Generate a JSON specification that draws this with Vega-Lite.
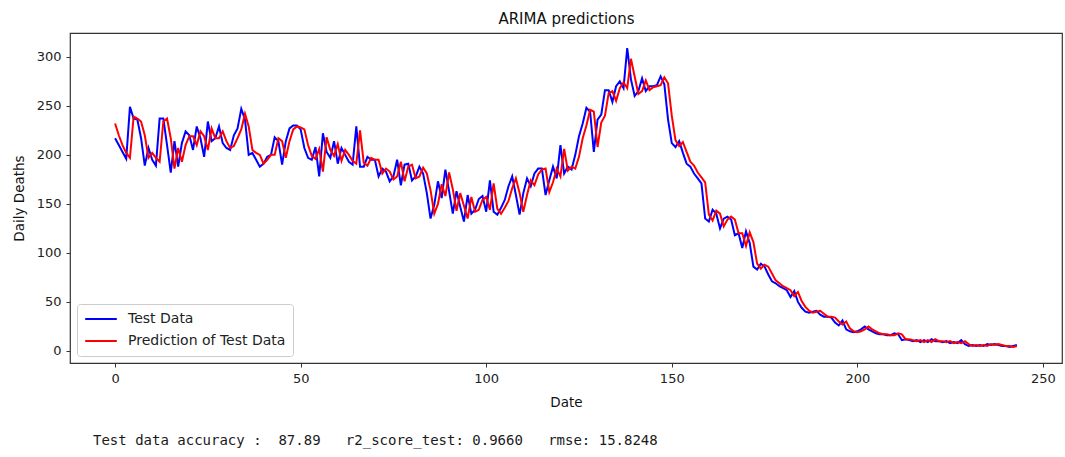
{
  "$schema": "https://vega.github.io/schema/vega-lite/v6.json",
  "autosize": "none",
  "width": 992,
  "height": 330,
  "padding": {"left": 70, "top": 33, "right": 3, "bottom": 94},
  "background": "white",
  "title": {
    "text": "Test data accuracy :\u00a0 87.89\u00a0\u00a0 r2_score_test: 0.9660\u00a0\u00a0 rmse: 15.8248",
    "orient": "bottom",
    "anchor": "start",
    "frame": "group",
    "dx": 23,
    "offset": 25,
    "font": "DejaVu Sans Mono",
    "fontSize": 14,
    "fontWeight": "normal",
    "color": "#1a1a1a"
  },
  "data": {
    "values": [
      {"Date":0,"test":217,"pred":232},{"Date":1,"test":210,"pred":220},{"Date":2,"test":203,"pred":210},{"Date":3,"test":196,"pred":202},{"Date":4,"test":249,"pred":197},
      {"Date":5,"test":237,"pred":239},{"Date":6,"test":236,"pred":237},{"Date":7,"test":217,"pred":234},{"Date":8,"test":189,"pred":220},{"Date":9,"test":207,"pred":197},
      {"Date":10,"test":195,"pred":202},{"Date":11,"test":189,"pred":197},{"Date":12,"test":237,"pred":193},{"Date":13,"test":237,"pred":234},{"Date":14,"test":210,"pred":237},
      {"Date":15,"test":182,"pred":217},{"Date":16,"test":214,"pred":186},{"Date":17,"test":188,"pred":207},{"Date":18,"test":212,"pred":193},{"Date":19,"test":224,"pred":210},
      {"Date":20,"test":220,"pred":219},{"Date":21,"test":205,"pred":219},{"Date":22,"test":229,"pred":210},{"Date":23,"test":217,"pred":224},{"Date":24,"test":198,"pred":219},
      {"Date":25,"test":234,"pred":205},{"Date":26,"test":214,"pred":227},{"Date":27,"test":217,"pred":217},{"Date":28,"test":229,"pred":217},{"Date":29,"test":212,"pred":224},
      {"Date":30,"test":207,"pred":214},{"Date":31,"test":205,"pred":207},{"Date":32,"test":220,"pred":209},{"Date":33,"test":227,"pred":217},{"Date":34,"test":247,"pred":226},
      {"Date":35,"test":236,"pred":242},{"Date":36,"test":200,"pred":229},{"Date":37,"test":202,"pred":205},{"Date":38,"test":195,"pred":202},{"Date":39,"test":188,"pred":200},
      {"Date":40,"test":191,"pred":191},{"Date":41,"test":198,"pred":195},{"Date":42,"test":200,"pred":200},{"Date":43,"test":218,"pred":200},{"Date":44,"test":214,"pred":217},
      {"Date":45,"test":190,"pred":214},{"Date":46,"test":214,"pred":197},{"Date":47,"test":227,"pred":214},{"Date":48,"test":230,"pred":226},{"Date":49,"test":230,"pred":229},
      {"Date":50,"test":226,"pred":228},{"Date":51,"test":207,"pred":226},{"Date":52,"test":197,"pred":210},{"Date":53,"test":195,"pred":199},{"Date":54,"test":208,"pred":196},
      {"Date":55,"test":178,"pred":206},{"Date":56,"test":222,"pred":183},{"Date":57,"test":203,"pred":218},{"Date":58,"test":197,"pred":205},{"Date":59,"test":214,"pred":199},
      {"Date":60,"test":191,"pred":211},{"Date":61,"test":207,"pred":194},{"Date":62,"test":200,"pred":205},{"Date":63,"test":193,"pred":200},{"Date":64,"test":190,"pred":194},
      {"Date":65,"test":229,"pred":191},{"Date":66,"test":188,"pred":225},{"Date":67,"test":188,"pred":192},{"Date":68,"test":198,"pred":189},{"Date":69,"test":195,"pred":197},
      {"Date":70,"test":195,"pred":195},{"Date":71,"test":178,"pred":195},{"Date":72,"test":186,"pred":181},{"Date":73,"test":183,"pred":186},{"Date":74,"test":173,"pred":183},
      {"Date":75,"test":178,"pred":175},{"Date":76,"test":195,"pred":178},{"Date":77,"test":169,"pred":193},{"Date":78,"test":190,"pred":173},{"Date":79,"test":191,"pred":188},
      {"Date":80,"test":174,"pred":190},{"Date":81,"test":178,"pred":176},{"Date":82,"test":188,"pred":178},{"Date":83,"test":181,"pred":187},{"Date":84,"test":161,"pred":181},
      {"Date":85,"test":135,"pred":164},{"Date":86,"test":149,"pred":140},{"Date":87,"test":173,"pred":150},{"Date":88,"test":156,"pred":170},{"Date":89,"test":185,"pred":158},
      {"Date":90,"test":163,"pred":182},{"Date":91,"test":140,"pred":165},{"Date":92,"test":163,"pred":143},{"Date":93,"test":147,"pred":161},{"Date":94,"test":132,"pred":148},
      {"Date":95,"test":159,"pred":135},{"Date":96,"test":140,"pred":157},{"Date":97,"test":144,"pred":142},{"Date":98,"test":155,"pred":144},{"Date":99,"test":158,"pred":154},
      {"Date":100,"test":142,"pred":157},{"Date":101,"test":174,"pred":144},{"Date":102,"test":142,"pred":171},{"Date":103,"test":139,"pred":145},{"Date":104,"test":146,"pred":140},
      {"Date":105,"test":154,"pred":146},{"Date":106,"test":168,"pred":153},{"Date":107,"test":178,"pred":166},{"Date":108,"test":159,"pred":176},{"Date":109,"test":139,"pred":161},
      {"Date":110,"test":161,"pred":142},{"Date":111,"test":176,"pred":159},{"Date":112,"test":168,"pred":174},{"Date":113,"test":181,"pred":169},{"Date":114,"test":186,"pred":180},
      {"Date":115,"test":186,"pred":185},{"Date":116,"test":159,"pred":186},{"Date":117,"test":174,"pred":162},{"Date":118,"test":188,"pred":172},{"Date":119,"test":176,"pred":186},
      {"Date":120,"test":210,"pred":178},{"Date":121,"test":181,"pred":206},{"Date":122,"test":188,"pred":184},{"Date":123,"test":185,"pred":188},{"Date":124,"test":200,"pred":186},
      {"Date":125,"test":219,"pred":198},{"Date":126,"test":232,"pred":217},{"Date":127,"test":248,"pred":230},{"Date":128,"test":244,"pred":246},{"Date":129,"test":203,"pred":244},
      {"Date":130,"test":236,"pred":208},{"Date":131,"test":241,"pred":233},{"Date":132,"test":266,"pred":240},{"Date":133,"test":266,"pred":263},{"Date":134,"test":254,"pred":265},
      {"Date":135,"test":270,"pred":255},{"Date":136,"test":275,"pred":268},{"Date":137,"test":268,"pred":274},{"Date":138,"test":309,"pred":268},{"Date":139,"test":277,"pred":298},
      {"Date":140,"test":260,"pred":280},{"Date":141,"test":265,"pred":262},{"Date":142,"test":278,"pred":265},{"Date":143,"test":265,"pred":276},{"Date":144,"test":270,"pred":266},
      {"Date":145,"test":270,"pred":269},{"Date":146,"test":271,"pred":270},{"Date":147,"test":280,"pred":271},{"Date":148,"test":272,"pred":279},{"Date":149,"test":236,"pred":273},
      {"Date":150,"test":212,"pred":240},{"Date":151,"test":208,"pred":215},{"Date":152,"test":214,"pred":209},{"Date":153,"test":202,"pred":213},{"Date":154,"test":191,"pred":203},
      {"Date":155,"test":188,"pred":193},{"Date":156,"test":181,"pred":189},{"Date":157,"test":176,"pred":182},{"Date":158,"test":171,"pred":177},{"Date":159,"test":135,"pred":172},
      {"Date":160,"test":132,"pred":139},{"Date":161,"test":144,"pred":133},{"Date":162,"test":140,"pred":143},{"Date":163,"test":125,"pred":140},{"Date":164,"test":135,"pred":127},
      {"Date":165,"test":137,"pred":134},{"Date":166,"test":134,"pred":137},{"Date":167,"test":118,"pred":134},{"Date":168,"test":120,"pred":120},{"Date":169,"test":105,"pred":120},
      {"Date":170,"test":122,"pred":107},{"Date":171,"test":110,"pred":121},{"Date":172,"test":86,"pred":111},{"Date":173,"test":83,"pred":89},{"Date":174,"test":89,"pred":84},
      {"Date":175,"test":86,"pred":88},{"Date":176,"test":78,"pred":86},{"Date":177,"test":71,"pred":79},{"Date":178,"test":69,"pred":72},{"Date":179,"test":66,"pred":69},
      {"Date":180,"test":64,"pred":66},{"Date":181,"test":62,"pred":64},{"Date":182,"test":55,"pred":62},{"Date":183,"test":61,"pred":56},{"Date":184,"test":50,"pred":60},
      {"Date":185,"test":44,"pred":51},{"Date":186,"test":40,"pred":45},{"Date":187,"test":39,"pred":41},{"Date":188,"test":40,"pred":39},{"Date":189,"test":41,"pred":40},
      {"Date":190,"test":37,"pred":41},{"Date":191,"test":35,"pred":38},{"Date":192,"test":35,"pred":35},{"Date":193,"test":34,"pred":35},{"Date":194,"test":29,"pred":34},
      {"Date":195,"test":26,"pred":30},{"Date":196,"test":31,"pred":27},{"Date":197,"test":22,"pred":30},{"Date":198,"test":20,"pred":23},{"Date":199,"test":19,"pred":20},
      {"Date":200,"test":20,"pred":19},{"Date":201,"test":22,"pred":20},{"Date":202,"test":25,"pred":22},{"Date":203,"test":22,"pred":25},{"Date":204,"test":20,"pred":22},
      {"Date":205,"test":18,"pred":20},{"Date":206,"test":17,"pred":18},{"Date":207,"test":17,"pred":17},{"Date":208,"test":16,"pred":17},{"Date":209,"test":16,"pred":16},
      {"Date":210,"test":18,"pred":16},{"Date":211,"test":17,"pred":18},{"Date":212,"test":11,"pred":17},{"Date":213,"test":12,"pred":12},{"Date":214,"test":11,"pred":12},
      {"Date":215,"test":10,"pred":11},{"Date":216,"test":11,"pred":10},{"Date":217,"test":9,"pred":11},{"Date":218,"test":11,"pred":9},{"Date":219,"test":9,"pred":11},
      {"Date":220,"test":12,"pred":9},{"Date":221,"test":10,"pred":12},{"Date":222,"test":10,"pred":10},{"Date":223,"test":9,"pred":10},{"Date":224,"test":10,"pred":9},
      {"Date":225,"test":8,"pred":10},{"Date":226,"test":9,"pred":8},{"Date":227,"test":8,"pred":9},{"Date":228,"test":11,"pred":8},{"Date":229,"test":7,"pred":10},
      {"Date":230,"test":5,"pred":7},{"Date":231,"test":6,"pred":5},{"Date":232,"test":5,"pred":6},{"Date":233,"test":6,"pred":5},{"Date":234,"test":5,"pred":6},
      {"Date":235,"test":7,"pred":5},{"Date":236,"test":6,"pred":7},{"Date":237,"test":7,"pred":6},{"Date":238,"test":6,"pred":7},{"Date":239,"test":5,"pred":6},
      {"Date":240,"test":5,"pred":5},{"Date":241,"test":4,"pred":5},{"Date":242,"test":5,"pred":4},{"Date":243,"test":6,"pred":5}
    ]
  },
  "resolve": {"axis": {"x": "independent"}},
  "layer": [
    {
      "mark": {"type": "line", "strokeWidth": 2, "clip": true},
      "encoding": {
        "x": {
          "field": "Date", "type": "quantitative",
          "scale": {"domain": [-12.15, 255.15], "nice": false, "zero": false},
          "axis": {"title": "Date", "values": [0, 50, 100, 150, 200, 250], "orient": "bottom"}
        },
        "y": {
          "field": "test", "type": "quantitative",
          "scale": {"domain": [-12.3, 324.3], "nice": false, "zero": false},
          "axis": {"title": "Daily Deaths", "values": [0, 50, 100, 150, 200, 250, 300]}
        },
        "color": {
          "datum": "Test Data",
          "type": "nominal",
          "scale": {"domain": ["Test Data", "Prediction of Test Data"], "range": ["#0000ff", "#ff0000"]},
          "legend": {"title": null}
        }
      }
    },
    {
      "mark": {"type": "line", "strokeWidth": 2, "clip": true},
      "encoding": {
        "x": {
          "field": "Date", "type": "quantitative",
          "axis": {"orient": "top", "title": "ARIMA predictions", "labels": false, "ticks": false, "domain": false,
                   "titleFontSize": 15, "titlePadding": 7, "titleColor": "#111"}
        },
        "y": {"field": "pred", "type": "quantitative"},
        "color": {"datum": "Prediction of Test Data", "type": "nominal"}
      }
    }
  ],
  "config": {
    "font": "DejaVu Sans",
    "view": {"stroke": "#333", "strokeWidth": 1.2},
    "axis": {
      "grid": false,
      "domain": false,
      "tickColor": "#333",
      "tickSize": 4,
      "tickWidth": 1,
      "labelFont": "DejaVu Sans",
      "labelFontSize": 13,
      "labelColor": "#222",
      "labelPadding": 5,
      "titleFont": "DejaVu Sans",
      "titleFontSize": 13.5,
      "titleFontWeight": "normal",
      "titleColor": "#111",
      "titlePadding": 10
    },
    "axisY": {"labelFlush": false},
    "axisX": {"labelFlush": false},
    "legend": {
      "orient": "bottom-left",
      "offset": 7,
      "fillColor": "white",
      "strokeColor": "#cccccc",
      "cornerRadius": 3,
      "padding": 7,
      "symbolType": "stroke",
      "symbolSize": 1000,
      "symbolStrokeWidth": 2,
      "clipHeight": 16,
      "labelFont": "DejaVu Sans",
      "labelFontSize": 14,
      "labelColor": "#222",
      "labelOffset": 10,
      "rowPadding": 6
    }
  }
}
